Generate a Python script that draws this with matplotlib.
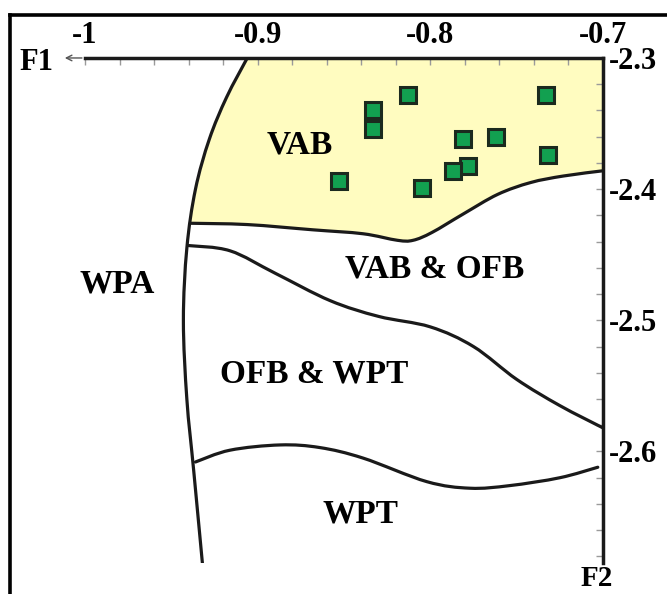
import numpy as np
import matplotlib.pyplot as plt
from matplotlib.lines import Line2D
from matplotlib.path import Path
from matplotlib.patches import PathPatch

# sample points (F1, F2)
f1_pts = [-0.813, -0.833, -0.833, -0.733, -0.781, -0.762, -0.732, -0.853, -0.778, -0.787, -0.805]
f2_pts = [-2.328, -2.340, -2.354, -2.328, -2.362, -2.360, -2.374, -2.394, -2.382, -2.386, -2.399]

# boundary lines of the discrimination fields
wpa_x = [-0.906, -0.918, -0.928, -0.936, -0.941, -0.943, -0.941, -0.937, -0.932]
wpa_y = [-2.300, -2.330, -2.362, -2.400, -2.445, -2.500, -2.560, -2.615, -2.685]

vab_x = [-0.939, -0.906, -0.868, -0.839, -0.819, -0.810, -0.799, -0.781, -0.761, -0.742, -0.723, -0.700]
vab_y = [-2.426, -2.427, -2.431, -2.434, -2.439, -2.439, -2.433, -2.419, -2.404, -2.395, -2.390, -2.386]

ofb_x = [-0.940, -0.916, -0.890, -0.858, -0.830, -0.800, -0.775, -0.750, -0.725, -0.700]
ofb_y = [-2.443, -2.447, -2.464, -2.485, -2.497, -2.505, -2.520, -2.545, -2.565, -2.582]

wpt_x = [-0.936, -0.916, -0.887, -0.864, -0.839, -0.802, -0.777, -0.754, -0.725, -0.703]
wpt_y = [-2.608, -2.599, -2.595, -2.597, -2.605, -2.623, -2.628, -2.626, -2.620, -2.612]

x_ticks = [-1, -0.9, -0.8, -0.7]
x_labels = ['-1', '-0.9', '-0.8', '-0.7']
y_ticks = [-2.3, -2.4, -2.5, -2.6]
y_labels = ['-2.3', '-2.4', '-2.5', '-2.6']

serif = ['Liberation Serif', 'DejaVu Serif']


def curve(xs, ys):
    # smooth bezier path through the read points (drawing only)
    p = np.column_stack([xs, ys])
    q = np.vstack([p[0], p, p[-1]])
    verts, codes = [p[0]], [Path.MOVETO]
    for i in range(len(p) - 1):
        c1 = q[i + 1] + (q[i + 2] - q[i]) / 6
        c2 = q[i + 2] - (q[i + 3] - q[i + 1]) / 6
        verts += [c1, c2, q[i + 2]]
        codes += [Path.CURVE4] * 3
    return verts, codes


fig = plt.figure(figsize=(6.67, 5.94), dpi=100)
ax = fig.add_axes([0.1274, 0.0522, 0.7766, 0.8502])
ax.set_xlim(-1.0, -0.7)
ax.set_ylim(-2.685, -2.3)

# yellow VAB field
v1, c1 = curve(wpa_x[:4], wpa_y[:4])
v2, c2 = curve(vab_x, vab_y)
verts = v1 + v2 + [(-0.7, -2.3), (-0.7, -2.3)]
codes = c1 + [Path.LINETO] + c2[1:] + [Path.LINETO, Path.CLOSEPOLY]
ax.add_patch(PathPatch(Path(verts, codes), fc='#fffcc0', lw=0, zorder=1))

for xs, ys in [(wpa_x, wpa_y), (vab_x, vab_y), (ofb_x, ofb_y), (wpt_x, wpt_y)]:
    v, c = curve(xs, ys)
    ax.add_patch(PathPatch(Path(v, c), fill=False, ec='#1a1a1a', lw=2.3,
                           capstyle='round', joinstyle='round', zorder=2))

ax.plot(f1_pts, f2_pts, 's', ms=11, mfc='#12a050', mec='#1b2a1e', mew=2.2, zorder=3)

lbl = dict(fontfamily=serif, fontweight='bold', fontsize=24, ha='center', va='center')
ax.text(-0.8755, -2.366, 'VAB', **lbl)
ax.text(-0.9815, -2.472, 'WPA', **lbl)
ax.text(-0.7973, -2.461, 'VAB & OFB', **lbl)
ax.text(-0.8670, -2.541, 'OFB & WPT', **lbl)
ax.text(-0.8407, -2.648, 'WPT', **lbl)

# axes: top and right only
for s in ['left', 'bottom']:
    ax.spines[s].set_visible(False)
for s in ['top', 'right']:
    ax.spines[s].set_linewidth(2.5)
    ax.spines[s].set_color('#1a1a1a')
ax.xaxis.tick_top()
ax.yaxis.tick_right()
ax.set_xticks(x_ticks)
ax.set_xticklabels(x_labels)
ax.set_yticks(y_ticks)
ax.set_yticklabels(y_labels)
ax.set_xticks(np.arange(-1.0, -0.69, 0.02), minor=True)
ax.set_yticks(np.arange(-2.68, -2.29, 0.02), minor=True)
ax.tick_params(which='both', direction='in', color='#9a9a9a', width=1, length=5)
ax.tick_params(axis='x', which='major', pad=6)
ax.tick_params(axis='y', which='major', pad=4)
for t in ax.get_xticklabels() + ax.get_yticklabels():
    t.set_fontfamily(serif)
    t.set_fontweight('bold')
    t.set_fontsize(22)

fig.text(0.054, 0.895, 'F1', fontfamily=serif, fontweight='bold', fontsize=22,
         ha='center', va='center')
ax.annotate('', xy=(0.093, 0.9024), xytext=(0.127, 0.9024), xycoords='figure fraction',
            arrowprops=dict(arrowstyle='->', color='#555555', lw=1))
fig.text(0.895, 0.004, 'F2', fontfamily=serif, fontweight='bold', fontsize=21,
         ha='center', va='bottom')

# outer frame
fig.add_artist(Line2D([0.015, 0.015], [0.0, 0.975], color='black', lw=2.6))
fig.add_artist(Line2D([0.015, 1.0], [0.975, 0.975], color='black', lw=2.6))

fig.savefig('out.png', dpi=100)
